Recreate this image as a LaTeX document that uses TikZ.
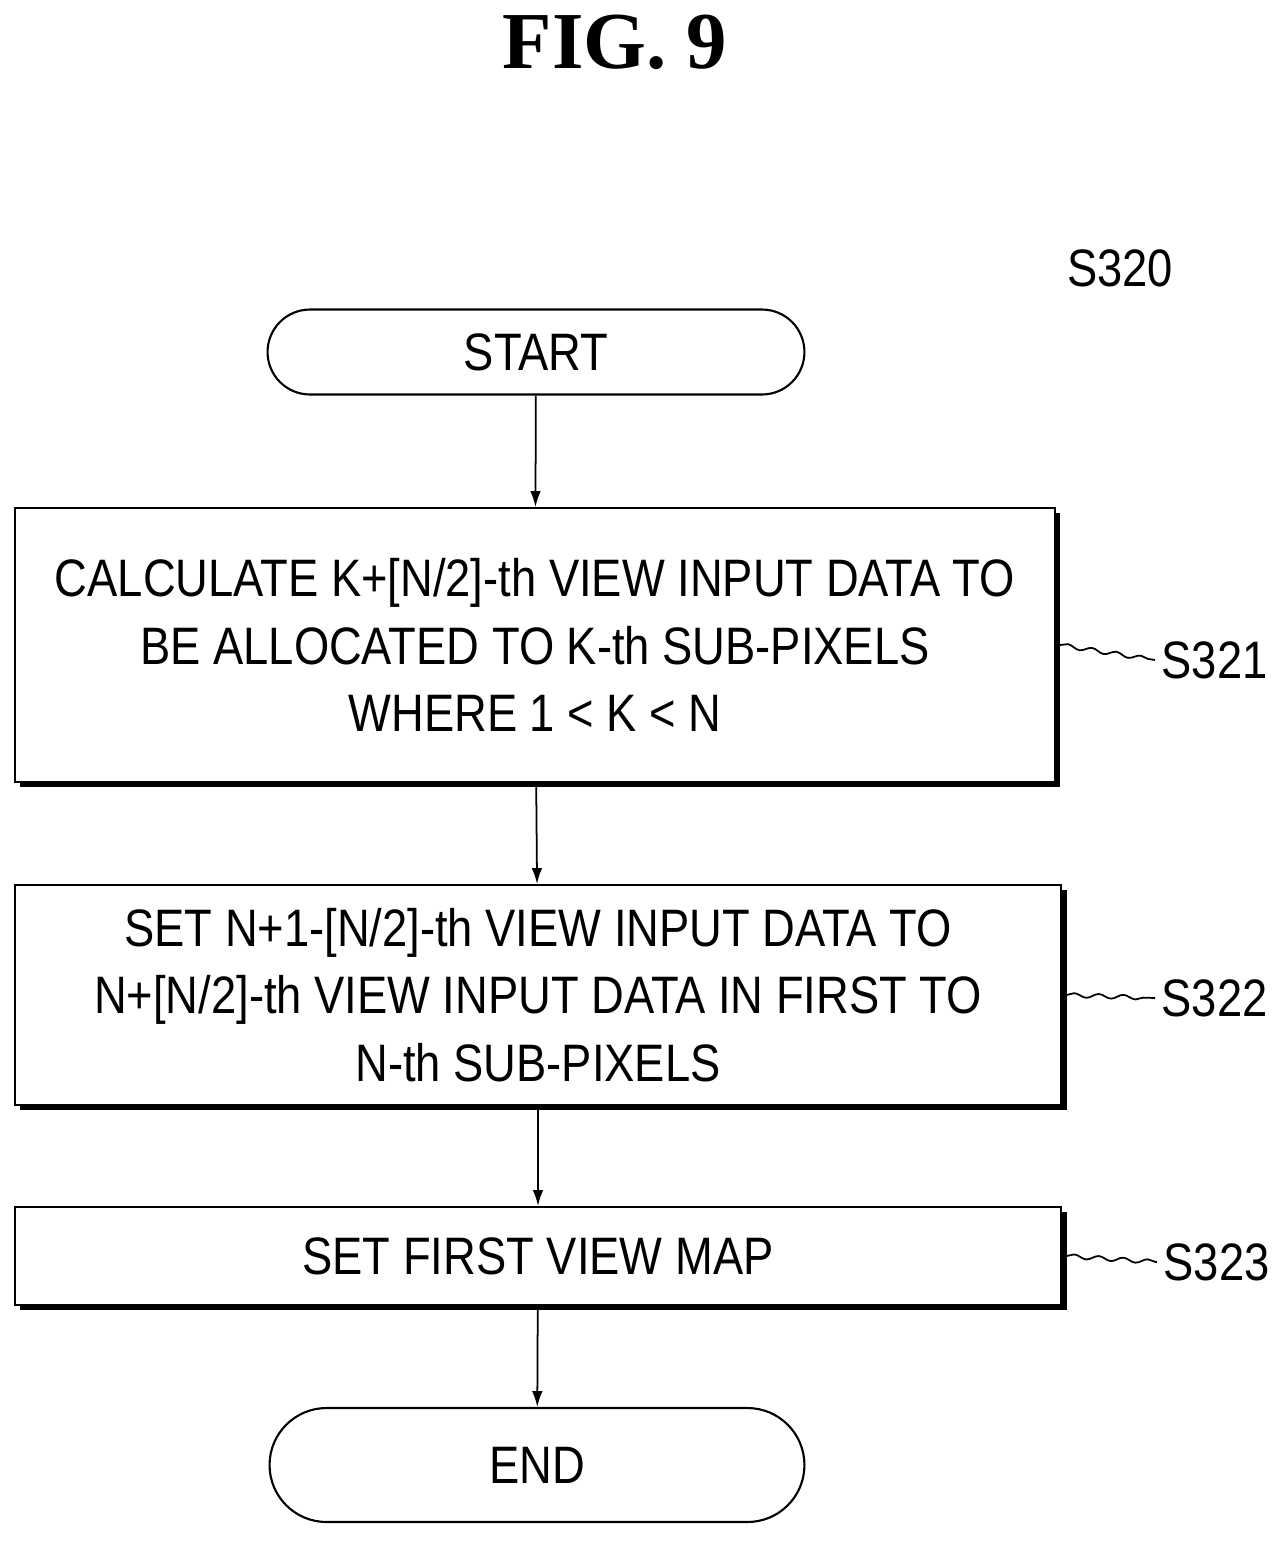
\documentclass[tikz,border=0pt]{standalone}
\usepackage{fontspec}
\setmainfont[FakeStretch=0.86]{Liberation Sans}
\newfontfamily\titlefont{Liberation Serif}
\usetikzlibrary{arrows.meta,shadows,decorations.pathmorphing}
\begin{document}
\tikzset{
  procbox/.style={draw,line width=1.2pt,fill=white,inner sep=0pt,align=center,
    font=\fontsize{30}{38.5}\selectfont},
  shadowbox/.style={procbox,drop shadow={shadow xshift=3pt,shadow yshift=-3pt,fill=black,opacity=1}},
  lbl/.style={font=\fontsize{30}{36}\selectfont,anchor=west},
  wave/.style={decorate,decoration={snake,amplitude=1.2pt,segment length=14pt}},
}
\begin{tikzpicture}[x=0.02cm,y=-0.02cm,>={Latex[length=9pt,width=6pt]},line width=1pt]
\useasboundingbox (0,0) rectangle (1285,1543);
\node (v0) at (615,42) {\titlefont\bfseries\fontsize{46}{50}\selectfont FIG. 9};
\node (v1) at (1120,268) [font=\fontsize{30}{36}\selectfont] {S320};
\node (v2) at (536,352) [procbox,minimum width=10.74cm,minimum height=1.7cm,rounded corners=0.85cm] {START};
\node (v3) at (535,645) [shadowbox,minimum width=20.8cm,minimum height=5.48cm] {CALCULATE K+[N/2]-th VIEW INPUT DATA TO\\BE ALLOCATED TO K-th SUB-PIXELS\\WHERE 1 < K < N};
\node (v4) at (538,995) [shadowbox,minimum width=20.94cm,minimum height=4.4cm] {SET N+1-[N/2]-th VIEW INPUT DATA TO\\N+[N/2]-th VIEW INPUT DATA IN FIRST TO\\N-th SUB-PIXELS};
\node (v5) at (538,1256) [shadowbox,minimum width=20.94cm,minimum height=1.96cm] {SET FIRST VIEW MAP};
\node (v6) at (537,1465) [procbox,minimum width=10.7cm,minimum height=2.28cm,rounded corners=1.14cm] {END};
\node (v7) at (1155,660) [lbl] {S321};
\node (v8) at (1155,998) [lbl] {S322};
\node (v9) at (1157,1262) [lbl] {S323};
\draw [->] (v2) edge (v3);
\draw [->] (v3) edge (v4);
\draw [->] (v4) edge (v5);
\draw [->] (v5) edge (v6);
\draw [wave] (v3.east) ++(4,0) -- (v7.west);
\draw [wave] (v4.east) ++(4,0) -- (v8.west);
\draw [wave] (v5.east) ++(4,0) -- (v9.west);
\end{tikzpicture}
\end{document}
